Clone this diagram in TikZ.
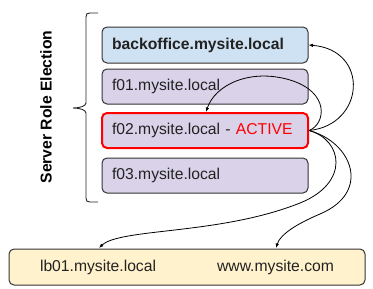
\documentclass[tikz,border=0pt]{standalone}
\usepackage{fontspec}
\setmainfont{Liberation Sans}
\usetikzlibrary{arrows.meta}
\definecolor{boxline}{HTML}{333333}
\definecolor{bofill}{HTML}{CFE2F3}
\definecolor{hostfill}{HTML}{D9D2E9}
\definecolor{lbfill}{HTML}{FFF2CC}
\definecolor{activered}{HTML}{FF0000}
\definecolor{ink}{HTML}{222222}
\newcommand{\labelfont}{\fontsize{15.7}{18}\selectfont}
\begin{document}
\begin{tikzpicture}[x=1pt,y=-1pt,
  font=\labelfont,
  hostbox/.style={draw=boxline, line width=1pt, rounded corners=5pt,
    fill=hostfill, text width=186pt, inner xsep=10pt, inner ysep=0pt,
    minimum height=35pt, align=left, text=ink},
  lbbox/.style={draw=boxline, line width=1pt, rounded corners=5pt,
    fill=lbfill, minimum width=356pt, minimum height=36pt, inner sep=0pt,
    text=ink},
  link/.style={draw=black, line width=0.8pt,
    -{Latex[length=4.5pt,width=3.5pt]}},
  bracket/.style={draw=black!85, line width=0.9pt}]
\useasboundingbox (0,0) rectangle (373,289);

% group caption and its brace
\node[font=\labelfont\bfseries, rotate=90, text=black] (title) at (46,107)
  {Server Role Election};
\draw[bracket] (98,13) -- (90,13) .. controls (87,13) and (86,14) .. (86,17)
  -- (86,103) .. controls (86,106) and (80,108) .. (73,108)
  .. controls (80,108) and (86,110) .. (86,113)
  -- (86,198) .. controls (86,201) and (87,202) .. (90,202) -- (98,202);

% servers
\node[hostbox, fill=bofill, minimum height=36pt, font=\labelfont\bfseries]
  (backoffice) at (205,45) {backoffice.mysite.local};
\node[hostbox] (f01) at (205,86.5) {f01.mysite.local};
\node[hostbox, draw=activered, line width=2pt] (f02) at (205,130.5)
  {f02.mysite.local - \textcolor{activered}{ACTIVE}};
\node[hostbox] (f03) at (205,175.5) {f03.mysite.local};

% load balancer
\node[lbbox] (lb) at (187,267)
  {lb01.mysite.local\hspace{61pt}www.mysite.com};

% arrow targets on box borders
\coordinate (f02in) at (206,112);
\coordinate (lbin) at (99,248);
\coordinate (wwwin) at (276,248);

% connections from the active server
\draw[link] (f02.east) .. controls (365,125) and (370,50) .. (backoffice.east);
\draw[link] (f02.east) .. controls (326,124) and (330,92) .. (290,80)
  .. controls (250,68) and (215,85) .. (f02in);
\draw[link] (f02.east) .. controls (343,140) and (350,183) .. (300,203)
  .. controls (220,235) and (120,228) .. (lbin);
\draw[link] (f02.east) .. controls (352,142) and (372,192) .. (320,214)
  .. controls (295,224.6) and (280,235) .. (wwwin);
\end{tikzpicture}
\end{document}
